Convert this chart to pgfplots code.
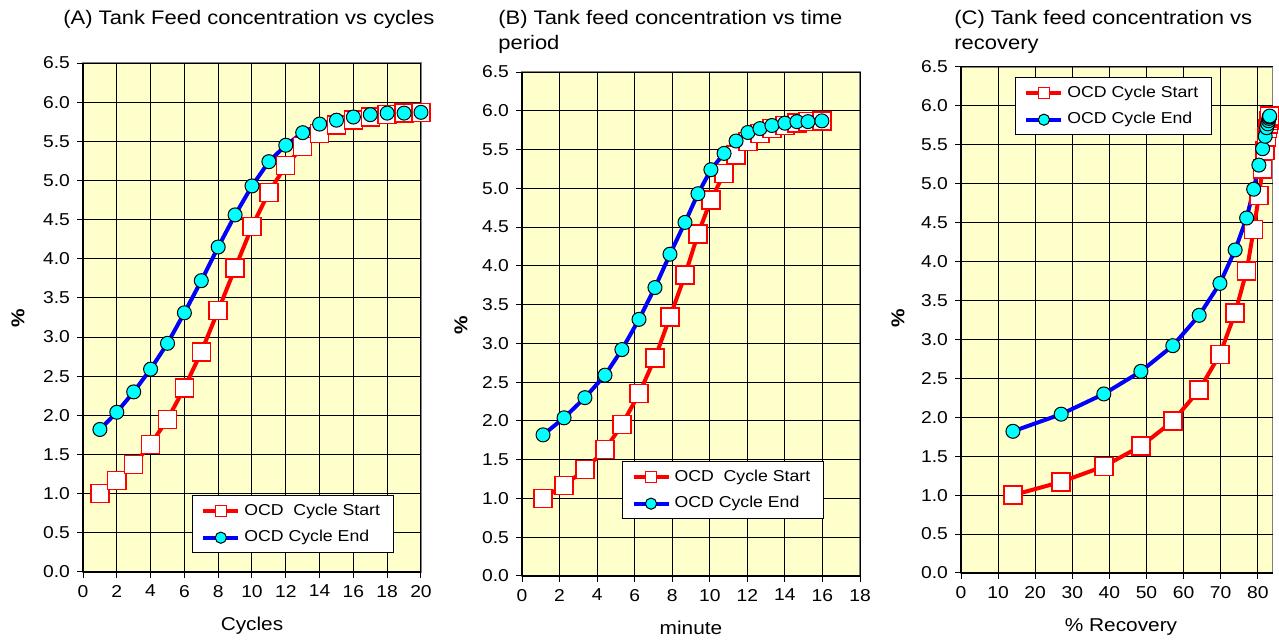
\documentclass[border=0pt]{standalone}
\usepackage{pgfplots}
\usepackage{pgfplotstable}
\pgfplotsset{compat=1.18}
\usepackage{fontspec}
\setmainfont[FakeStretch=1.12]{Liberation Sans}

\definecolor{bgyellow}{RGB}{255,255,204}
\definecolor{framegray}{RGB}{128,128,128}
\definecolor{cyanfill}{RGB}{0,255,255}
\definecolor{pure red}{RGB}{255,0,0}
\definecolor{pure blue}{RGB}{0,0,255}

% cycle, time (min), recovery (%), start conc., end conc.
\pgfplotstableread{
cyc t rec start end
1 1.12 14.0 1.00 1.82
2 2.24 27.0 1.17 2.04
3 3.35 38.5 1.37 2.30
4 4.42 48.5 1.63 2.59
5 5.32 57.1 1.95 2.92
6 6.23 64.2 2.35 3.31
7 7.08 69.8 2.81 3.72
8 7.88 73.9 3.34 4.15
9 8.68 77.0 3.88 4.56
10 9.37 78.9 4.41 4.93
11 10.06 80.3 4.85 5.24
12 10.76 81.3 5.19 5.45
13 11.40 82.0 5.43 5.61
14 12.03 82.4 5.60 5.72
15 12.67 82.7 5.71 5.77
16 13.31 82.9 5.77 5.81
17 14.00 83.0 5.81 5.84
18 14.64 83.1 5.84 5.86
19 15.23 83.2 5.86 5.86
20 15.97 83.2 5.87 5.87
}\data

\pgfplotsset{
  panel/.style={
    scale only axis, clip=false,
    ymin=0, ymax=6.5,
    ytick={0,0.5,1,1.5,2,2.5,3,3.5,4,4.5,5,5.5,6,6.5},
    axis x line*=bottom, axis y line*=left,
    axis line style={black, line width=0.6pt},
    axis background/.style={fill=bgyellow, draw=framegray, line width=0.8pt},
    grid=major, major grid style={black, line width=0.5pt},
    tick align=outside, major tick length=3pt,
    tick style={black, line width=0.5pt},
    tick label style={font=\fontsize{8.6}{10}\selectfont},
    /pgf/number format/assume math mode=true,
    yticklabel style={/pgf/number format/.cd, fixed, fixed zerofill, precision=1},
    xticklabel style={/pgf/number format/fixed},
    legend cell align=left,
    legend style={draw=black, line width=0.5pt, fill=white,
      font=\fontsize{7.9}{9}\selectfont, row sep=2.2pt,
      inner xsep=4.5pt, inner ysep=2pt, anchor=north west},
  },
  startser/.style={pure red, line width=2pt, mark=square*,
    mark size=4.5pt,
    mark options={fill=white, draw=pure red, line width=0.7pt},
    legend image code/.code={\draw[mark repeat=2, mark phase=2, ##1, mark size=2.7pt]
      plot coordinates {(0pt,0pt)(8.75pt,0pt)(17.5pt,0pt)};}},
  endser/.style={pure blue, line width=2pt, mark=*,
    mark size=3.5pt,
    mark options={fill=cyanfill, draw=black, line width=0.5pt},
    legend image code/.code={\draw[mark repeat=2, mark phase=2, ##1, mark size=2.8pt]
      plot coordinates {(0pt,0pt)(8.75pt,0pt)(17.5pt,0pt)};}},
}

\begin{document}
\begin{tikzpicture}
\path (0pt,0pt) rectangle (639.5pt,320pt);

% (A)
\begin{axis}[panel, at={(41.5pt,34pt)}, anchor=south west,
  width=169pt, height=254.5pt,
  xmin=0, xmax=20, xtick={0,2,...,20},
  legend style={at={(0.322,0.151)}}]
\addplot[startser] table[x=cyc, y=start] {\data};
\addlegendentry{OCD\ \ Cycle Start}
\addplot[endser] table[x=cyc, y=end] {\data};
\addlegendentry{OCD Cycle End}
\end{axis}

% (B)
\begin{axis}[panel, at={(261pt,32pt)}, anchor=south west,
  width=169pt, height=252pt,
  xmin=0, xmax=18, xtick={0,2,...,18},
  legend style={at={(0.296,0.228)}}]
\addplot[startser] table[x=t, y=start] {\data};
\addlegendentry{OCD\ \ Cycle Start}
\addplot[endser] table[x=t, y=end] {\data};
\addlegendentry{OCD Cycle End}
\end{axis}

% (C)
\begin{axis}[panel, at={(480.5pt,33.5pt)}, anchor=south west,
  width=155.8pt, height=253pt,
  xmin=0, xmax=84, xtick={0,10,...,80},
  legend style={at={(0.173,0.98)}}]
\addplot[startser] table[x=rec, y=start] {\data};
\addlegendentry{OCD Cycle Start}
\addplot[endser] table[x=rec, y=end] {\data};
\addlegendentry{OCD Cycle End}
\end{axis}

% titles
\begin{scope}[every node/.style={inner sep=0pt, anchor=base west,
    font=\fontsize{9.8}{11}\selectfont}]
\node at (31.5pt,307.5pt) {(A) Tank Feed concentration vs cycles};
\node at (249pt,307.5pt) {(B) Tank feed concentration vs time};
\node at (249pt,295pt) {period};
\node at (477pt,307.5pt) {(C) Tank feed concentration vs};
\node at (477pt,295pt) {recovery};
\end{scope}

% axis labels
\begin{scope}[every node/.style={inner sep=0pt, anchor=base,
    font=\fontsize{9.3}{11}\selectfont}]
\node at (126pt,4.6pt) {Cycles};
\node at (345.5pt,2.5pt) {minute};
\node at (560.5pt,4.2pt) {\% Recovery};
\node[rotate=90, anchor=center, font=\fontsize{9.3}{11}\selectfont\bfseries] at (9pt,161pt) {\%};
\node[rotate=90, anchor=center, font=\fontsize{9.3}{11}\selectfont\bfseries] at (230.5pt,157.5pt) {\%};
\node[rotate=90, anchor=center, font=\fontsize{9.3}{11}\selectfont\bfseries] at (449pt,161pt) {\%};
\end{scope}
\end{tikzpicture}
\end{document}
